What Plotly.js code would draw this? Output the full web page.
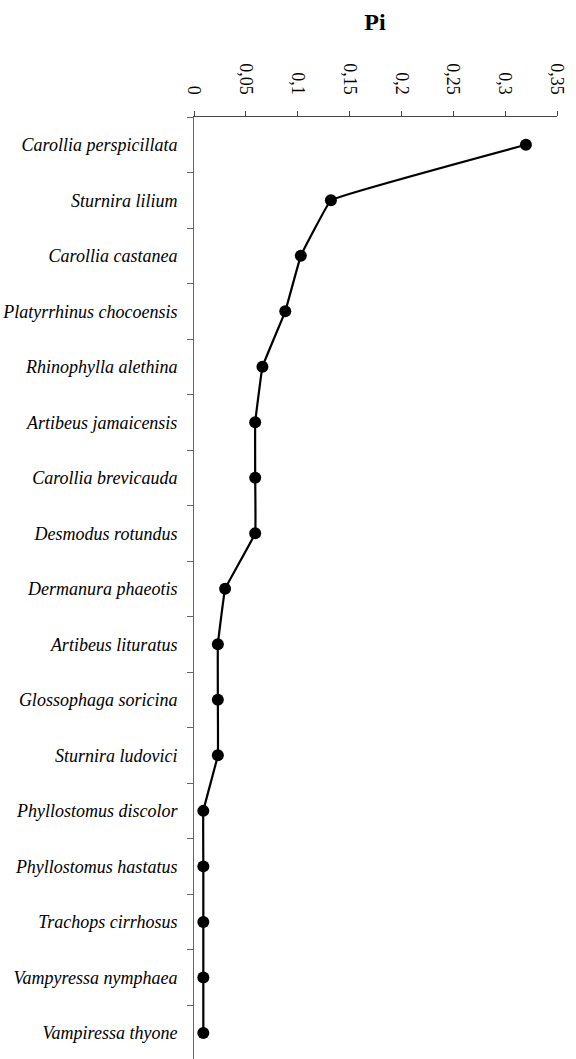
<!DOCTYPE html>
<html>
<head>
<meta charset="utf-8">
<script src="https://cdn.plot.ly/plotly-3.0.1.min.js"></script>
<style>html,body{margin:0;padding:0;background:#fff;}#chart{width:576px;height:1059px;}</style>
</head>
<body>
<div id="chart"></div>
<script>
var species = [
  "Carollia perspicillata", "Sturnira lilium", "Carollia castanea", "Platyrrhinus chocoensis",
  "Rhinophylla alethina", "Artibeus jamaicensis", "Carollia brevicauda", "Desmodus rotundus",
  "Dermanura phaeotis", "Artibeus lituratus", "Glossophaga soricina", "Sturnira ludovici",
  "Phyllostomus discolor", "Phyllostomus hastatus", "Trachops cirrhosus", "Vampyressa nymphaea",
  "Vampiressa thyone"
];
var piValues = [0.320, 0.132, 0.103, 0.088, 0.066, 0.059, 0.059, 0.059,
                0.030, 0.023, 0.023, 0.023, 0.009, 0.009, 0.009, 0.009, 0.009];
var xTicks = [0, 0.05, 0.1, 0.15, 0.2, 0.25, 0.3, 0.35];

var trace = {
  type: 'scatter', mode: 'lines+markers',
  x: piValues, y: species,
  line: {color: '#000', width: 2.2, shape: 'spline', smoothing: 0.15},
  marker: {color: '#000', size: 12},
  hoverinfo: 'skip'
};
var layout = {
  width: 576, height: 1059,
  margin: {l: 194, r: 19, t: 117, b: 0, pad: 0},
  paper_bgcolor: '#fff', plot_bgcolor: '#fff',
  separators: ', ',
  showlegend: false,
  font: {family: '"Liberation Serif", serif', color: '#000'},
  title: {text: '<b>Pi</b>', x: 375/576, xanchor: 'center', y: 1 - 22/1059, yanchor: 'middle', xref: 'container', yref: 'container',
          font: {family: '"Liberation Serif", serif', size: 24, color: '#000'}},
  xaxis: {
    side: 'top', range: [0, 0.35], tickvals: xTicks, tickmode: 'array',
    tickangle: 90, ticks: 'outside', ticklen: 5, tickcolor: '#444', tickwidth: 1,
    ticklabelstandoff: 10,
    showline: true, linecolor: '#444', linewidth: 1, showgrid: false, zeroline: false,
    tickfont: {family: '"Liberation Serif", serif', size: 18, color: '#000'}
  },
  yaxis: {
    type: 'category', categoryorder: 'array', categoryarray: species,
    range: [16.47, -0.5], ticks: 'outside', tickson: 'boundaries', ticklen: 6, tickcolor: '#666',
    ticklabelstandoff: 12,
    showline: true, linecolor: '#666', linewidth: 1, showgrid: false, zeroline: false,
    tickfont: {family: '"Liberation Serif", serif', size: 18, color: '#000', style: 'italic'}
  }
};
Plotly.newPlot('chart', [trace], layout, {displayModeBar: false, staticPlot: true});
</script>
</body>
</html>
